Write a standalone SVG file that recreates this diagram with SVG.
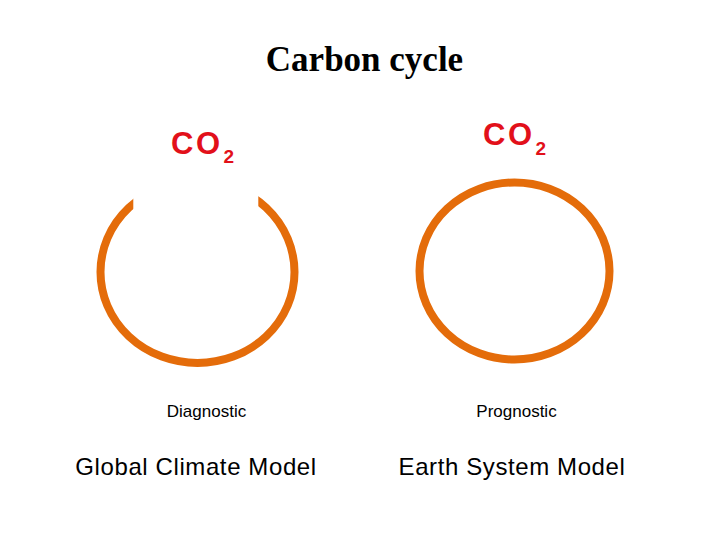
<svg xmlns="http://www.w3.org/2000/svg" width="720" height="540" viewBox="0 0 720 540">
  <style>
    .ring { fill: none; stroke: #E46C0A; stroke-width: 8; }
    .co2 { font-family: "Liberation Sans", Arial, sans-serif; font-weight: bold; font-size: 31px; letter-spacing: 2.5px; fill: #E2101A; }
    .co2 tspan.sub { font-size: 19px; }
    .small { font-family: "Liberation Sans", Arial, sans-serif; font-size: 17px; fill: #000; text-anchor: middle; }
    .big { font-family: "Liberation Sans", Arial, sans-serif; font-size: 24px; letter-spacing: 0.6px; fill: #000; text-anchor: middle; }
    .title { font-family: "Liberation Serif", "Times New Roman", serif; font-size: 35px; font-weight: bold; fill: #000; text-anchor: middle; }
  </style>
  <defs>
    <clipPath id="notch">
      <polygon points="0,0 133.3,0 133.3,240 258.3,240 258.3,0 720,0 720,540 0,540"/>
    </clipPath>
  </defs>
  <rect width="720" height="540" fill="#fff"/>
  <g id="title">
    <text class="title" x="364.5" y="71">Carbon cycle</text>
  </g>
  <g id="gcm">
    <ellipse class="ring" cx="197.5" cy="272" rx="97" ry="91" clip-path="url(#notch)"/>
    <text class="co2" x="171" y="154">CO<tspan class="sub" dx="1" dy="9">2</tspan></text>
    <text class="small" x="206.5" y="417">Diagnostic</text>
    <text class="big" x="196" y="475">Global Climate Model</text>
  </g>
  <g id="esm">
    <ellipse class="ring" cx="514.5" cy="271" rx="95" ry="88.5"/>
    <text class="co2" x="483" y="145">CO<tspan class="sub" dx="1" dy="10">2</tspan></text>
    <text class="small" x="516.5" y="417">Prognostic</text>
    <text class="big" x="512" y="475">Earth System Model</text>
  </g>
</svg>
